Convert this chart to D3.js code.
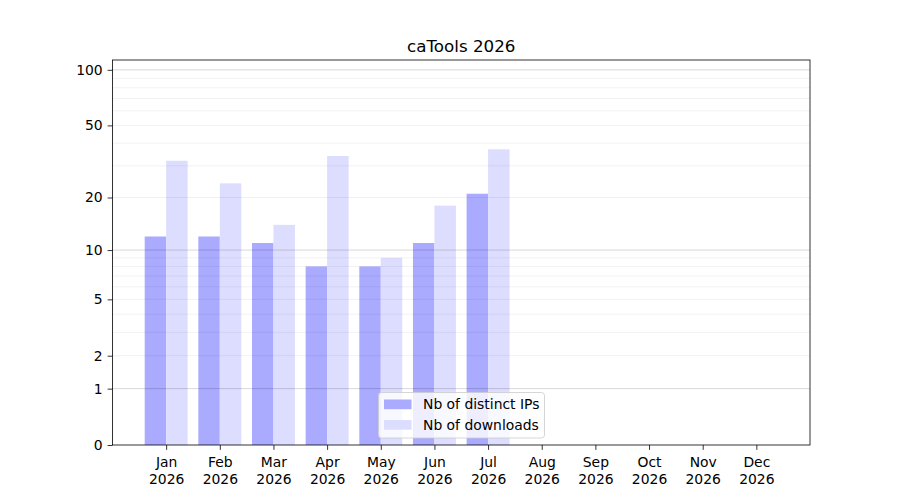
<!DOCTYPE html>
<html><head><meta charset="utf-8">
<script src="https://cdn.jsdelivr.net/npm/d3@7"></script>
<style>body{margin:0;background:#fff}svg{display:block;font-family:"DejaVu Sans",sans-serif}</style>
</head><body><svg id="c" width="900" height="500"></svg>
<script>
const title = "caTools 2026";
const months = ["Jan","Feb","Mar","Apr","May","Jun","Jul","Aug","Sep","Oct","Nov","Dec"];
const year = "2026";
const distinctIPs = [12,12,11,8,8,11,21,null,null,null,null,null];
const downloads = [32,24,14,34,9,18,37,null,null,null,null,null];
const seriesNames = ["Nb of distinct IPs","Nb of downloads"];
const yTickValues = [0,1,2,5,10,20,50,100];
const yMajorGrid = [1,10,100];
const yMinorGrid = [2,3,4,5,6,7,8,9,20,30,40,50,60,70,80,90];
const yMax = 113;

const svg = d3.select("#c");
const L=112.5, R=810, T=60, B=445;
const x = d3.scaleLinear().domain([-1,12]).range([L,R]);
const y = d3.scaleSymlog().constant(1).domain([0,yMax]).range([B,T]);
const bw = 0.4;

// bars
const g = svg.append("g");
g.selectAll("rect.ip").data(distinctIPs.map((v,i)=>({v,i})).filter(d=>d.v!=null)).enter()
 .append("rect").attr("x",d=>x(d.i-bw)).attr("width",x(bw)-x(0))
 .attr("y",d=>y(d.v)).attr("height",d=>y(0)-y(d.v)).attr("fill","#aaaaff");
g.selectAll("rect.dl").data(downloads.map((v,i)=>({v,i})).filter(d=>d.v!=null)).enter()
 .append("rect").attr("x",d=>x(d.i)).attr("width",x(bw)-x(0))
 .attr("y",d=>y(d.v)).attr("height",d=>y(0)-y(d.v)).attr("fill","#ddddff");

// grid on top
svg.append("g").selectAll("line").data(yMinorGrid).enter().append("line")
 .attr("x1",L).attr("x2",R).attr("y1",d=>y(d)).attr("y2",d=>y(d))
 .attr("stroke","#000").attr("stroke-opacity",0.07).attr("stroke-width",0.8);
svg.append("g").selectAll("line").data(yMajorGrid).enter().append("line")
 .attr("x1",L).attr("x2",R).attr("y1",d=>y(d)).attr("y2",d=>y(d))
 .attr("stroke","#000").attr("stroke-opacity",0.2).attr("stroke-width",0.8);

// axes
const fs = "13.9px";
const yAxis = svg.append("g").attr("transform",`translate(${L},0)`)
 .call(d3.axisLeft(y).tickValues(yTickValues).tickFormat(d3.format("d")).tickSize(4.9).tickPadding(4.9));
yAxis.select(".domain").remove();
yAxis.selectAll("text").attr("font-size",fs).attr("font-family","DejaVu Sans").attr("fill","#000");
yAxis.selectAll("line").attr("stroke","#000").attr("stroke-width",0.8);

const xAxis = svg.append("g").attr("transform",`translate(0,${B})`)
 .call(d3.axisBottom(x).tickValues(d3.range(12)).tickFormat("").tickSize(4.9));
xAxis.select(".domain").remove();
xAxis.selectAll("line").attr("stroke","#000").attr("stroke-width",0.8);
xAxis.selectAll(".tick").append("text").attr("fill","#000").attr("font-size",fs)
 .attr("text-anchor","middle").attr("font-family","DejaVu Sans")
 .each(function(d){
   const t=d3.select(this);
   t.append("tspan").attr("x",0).attr("y",22).text(months[d]);
   t.append("tspan").attr("x",0).attr("y",38.7).text(year);
 });

// frame
svg.append("rect").attr("x",L).attr("y",T).attr("width",R-L).attr("height",B-T)
 .attr("fill","none").attr("stroke","#000").attr("stroke-width",0.8);

// title
svg.append("text").attr("x",(L+R)/2).attr("y",52).attr("text-anchor","middle")
 .attr("font-size","16.7px").attr("fill","#000").text(title);

// legend
const lg = svg.append("g");
lg.append("rect").attr("x",378.5).attr("y",392.5).attr("width",166).attr("height",45.5)
 .attr("rx",3).attr("fill","#fff").attr("fill-opacity",0.8).attr("stroke","#ccc").attr("stroke-width",0.8);
const lc = ["#aaaaff","#ddddff"];
seriesNames.forEach((n,i)=>{
  lg.append("rect").attr("x",384).attr("y",399.5+i*20.5).attr("width",27.5).attr("height",9.7).attr("fill",lc[i]);
  lg.append("text").attr("x",423).attr("y",409+i*20.5).attr("font-size",fs).attr("fill","#000").text(n);
});
</script></body></html>
